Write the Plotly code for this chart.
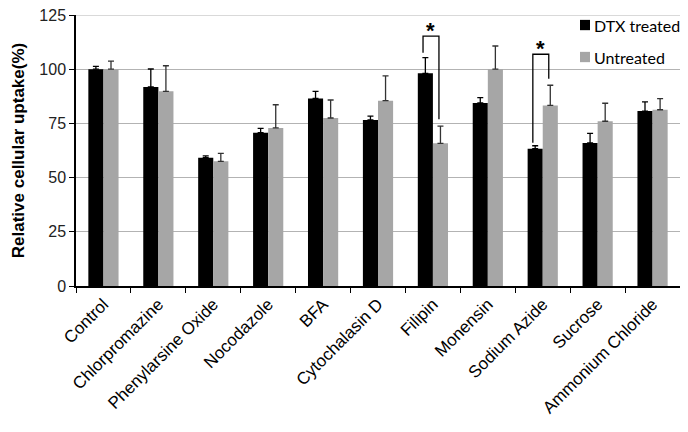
import plotly.graph_objects as go

categories = ["Control", "Chlorpromazine", "Phenylarsine Oxide", "Nocodazole", "BFA",
              "Cytochalasin D", "Filipin", "Monensin", "Sodium Azide", "Sucrose",
              "Ammonium Chloride"]
dtx_treated = [100.0, 91.8, 59.2, 70.7, 86.5, 76.6, 98.1, 84.4, 63.3, 66.0, 80.7]
dtx_err = [1.3, 8.3, 0.8, 2.0, 3.3, 1.8, 7.2, 2.5, 1.4, 4.4, 4.2]
untreated = [100.0, 89.8, 57.5, 72.9, 77.5, 85.5, 65.8, 100.0, 83.3, 76.0, 81.3]
untreated_err = [3.7, 11.8, 3.7, 10.7, 8.3, 11.4, 7.9, 10.7, 9.3, 8.3, 5.1]
y_ticks = [0, 25, 50, 75, 100, 125]
series_names = ["DTX treated", "Untreated"]
series_colors = ["#000000", "#a6a6a6"]

# significance brackets: (category index, top value, left bottom, right bottom)
sig_index = [6, 8]
sig_top = [115.3, 106.9]
sig_left_bottom = [107.6, 66.1]
sig_right_bottom = [76.9, 95.6]

font = "Liberation Sans, Arial, sans-serif"
grid_color = "#b3b3b3"

fig = go.Figure()
fig.add_trace(go.Bar(
    name=series_names[0], x=categories, y=dtx_treated,
    marker=dict(color=series_colors[0], line=dict(width=0)),
    error_y=dict(type="data", array=dtx_err, arrayminus=[0]*len(dtx_err),
                 color="#000000", thickness=1.3, width=3),
))
fig.add_trace(go.Bar(
    name=series_names[1], x=categories, y=untreated,
    marker=dict(color=series_colors[1], line=dict(width=0)),
    error_y=dict(type="data", array=untreated_err, arrayminus=[0]*len(untreated_err),
                 color="#333333", thickness=1.3, width=3),
))

# top gridline at the maximum tick
fig.add_shape(type="line", xref="paper", yref="y", x0=0, x1=1, y0=y_ticks[-1], y1=y_ticks[-1],
              line=dict(color=grid_color, width=1), layer="below")

for i, top, lb, rb in zip(sig_index, sig_top, sig_left_bottom, sig_right_bottom):
    xl = i - 0.18
    xr = i + 0.11
    fig.add_shape(type="path",
                  path=f"M {xl} {lb} L {xl} {top} L {xr} {top} L {xr} {rb}",
                  xref="x", yref="y", line=dict(color="#000000", width=1.3))
    fig.add_annotation(x=(xl + xr) / 2, y=top, text="<b>*</b>", showarrow=False,
                       xref="x", yref="y", yanchor="bottom", yshift=-9,
                       font=dict(family=font, size=22, color="#000000"))

# legend drawn as squares + labels (paper coordinates)
leg_y = [0.963, 0.845]
for name, color, yc in zip(series_names, series_colors, leg_y):
    fig.add_shape(type="rect", xref="paper", yref="paper",
                  x0=0.8344, x1=0.851, y0=yc - 0.019, y1=yc + 0.019,
                  fillcolor=color, line=dict(width=0))
    fig.add_annotation(x=0.855, y=yc, xref="paper", yref="paper", text=name,
                       showarrow=False, xanchor="left", yanchor="middle",
                       font=dict(family="Lato, Open Sans, sans-serif", size=16, color="#000000"))

# the page body adds an 8px margin, so the figure is sized to fill the rest of the window
fig.update_layout(
    width=680, height=424,
    margin=dict(l=68, r=8, t=7, b=146, autoexpand=False),
    paper_bgcolor="white", plot_bgcolor="white",
    barmode="group", bargap=0.45, bargroupgap=0,
    font=dict(family=font, color="#000000"),
    showlegend=False,
)
fig.update_xaxes(
    type="category", tickangle=-45, tickfont=dict(family=font, size=17, color="#000000"),
    showline=True, linecolor="#000000", linewidth=1.5, automargin=False,
    ticks="outside", tickson="boundaries", ticklen=5, tickcolor="#000000",
    showgrid=False, range=[-0.5, 10.5], ticklabeloverflow="allow",
)
fig.update_yaxes(
    range=[0, 125], tickvals=y_ticks, ticktext=[str(v) for v in y_ticks],
    tickfont=dict(family=font, size=16, color="#222222"), automargin=False,
    ticklabeloverflow="allow",
    title=dict(text="<b>Relative cellular uptake(%)</b>", font=dict(family=font, size=17, color="#000000"), standoff=10),
    showline=True, linecolor="#000000", linewidth=1.5,
    ticks="outside", ticklen=5, tickcolor="#000000",
    showgrid=True, gridcolor=grid_color, gridwidth=1, zeroline=False,
)

fig.write_html("out.html")
